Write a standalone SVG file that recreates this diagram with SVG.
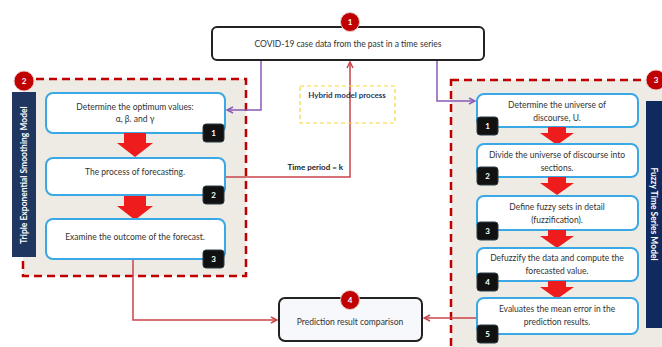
<svg xmlns="http://www.w3.org/2000/svg" xmlns:xlink="http://www.w3.org/1999/xlink" width="662" height="347" viewBox="0 0 662 347">
<style>
text{font-family:Lato,"Liberation Sans",sans-serif;font-size:8.5px;fill:#333;text-anchor:middle}
.step{fill:#fff;stroke:#3aa8e4;stroke-width:2}
.cont{fill:#eeebe4;stroke:#c00000;stroke-width:2.5;stroke-dasharray:8 5}
.badge{fill:#111;stroke:#2b3d44;stroke-width:1}
.bt{fill:#fff;font-weight:bold;font-size:8px}
.circ{fill:#c00000;stroke:#e8c8c8;stroke-width:1}
.ct{fill:#fff;font-weight:bold;font-size:8px}
.band{fill:#1f3660}
.bandt{fill:#fff;font-weight:bold;font-size:8.5px}
.red{fill:none;stroke:#c9444b;stroke-width:1.5}
.pur{fill:none;stroke:#8a5ab8;stroke-width:1.5}
.darr{fill:#ee1c1c}
</style>
<defs>
<marker id="mr" markerWidth="8" markerHeight="8" refX="7" refY="4" orient="auto" markerUnits="userSpaceOnUse"><path d="M1,1 L7,4 L1,7" fill="none" stroke="#c9444b" stroke-width="1.5"/></marker>
<marker id="mp" markerWidth="8" markerHeight="8" refX="7" refY="4" orient="auto" markerUnits="userSpaceOnUse"><path d="M1,1 L7,4 L1,7" fill="none" stroke="#8a5ab8" stroke-width="1.5"/></marker>
<path id="bigL" d="M-11,0 H11 V10 H18 L0,24 L-18,10 H-11 Z"/>
<path id="bigR" d="M-9,0 H9 V6 H17 L0,18 L-17,6 H-9 Z"/>
</defs>
<rect width="662" height="347" fill="#fff"/>

<g id="containers">
<rect class="cont" x="23" y="79" width="223" height="197"/>
<rect class="cont" x="451" y="80" width="220" height="290"/>
</g>

<g id="connectors">
<path class="pur" d="M261,60 V110 H227" marker-end="url(#mp)"/>
<path class="pur" d="M437,60 V101 H475" marker-end="url(#mp)"/>
<path class="red" d="M225,177 H350 V62" marker-end="url(#mr)"/>
<path class="red" d="M133,259 V320 H277" marker-end="url(#mr)"/>
<path class="red" d="M477,318 H424" marker-end="url(#mr)"/>
<text x="343" y="170" style="text-anchor:end;font-weight:bold;fill:#222;font-size:8px">Time period = k</text>
</g>

<g id="hybrid">
<rect x="300" y="86" width="95" height="37" fill="none" stroke="#f5d63a" stroke-width="1.2" stroke-dasharray="4 3"/>
<text x="347" y="98" style="font-weight:bold;fill:#1f3660;font-size:8px">Hybrid model process</text>
</g>

<g id="node1">
<rect x="212" y="27" width="272" height="33" rx="5" fill="#fff" stroke="#222" stroke-width="2"/>
<text x="348" y="47">COVID-19 case data from the past in a time series</text>
<circle class="circ" cx="350" cy="22" r="9.5"/><text class="ct" x="350" y="25">1</text>
</g>

<g id="tes">
<rect class="band" x="12" y="92" width="24" height="165"/>
<text class="bandt" transform="translate(27,175) rotate(-90)">Triple Exponential Smoothing Model</text>
<circle class="circ" cx="24" cy="81" r="10"/><text class="ct" x="24" y="84">2</text>
</g>

<g id="l1">
<rect class="step" x="46" y="93" width="179" height="40" rx="7"/>
<text x="135" y="110">Determine the optimum values:</text>
<text x="135" y="122">α, β. and γ</text>
<rect class="badge" x="203" y="124" width="21" height="18" rx="3"/><text class="bt" x="213.5" y="136">1</text>
</g>
<use xlink:href="#bigL" class="darr" x="135" y="133"/>
<g id="l2">
<rect class="step" x="46" y="158" width="179" height="37" rx="7"/>
<text x="135" y="175">The process of forecasting.</text>
<rect class="badge" x="203" y="186" width="21" height="18" rx="3"/><text class="bt" x="213.5" y="198">2</text>
</g>
<use xlink:href="#bigL" class="darr" x="135" y="196"/>
<g id="l3">
<rect class="step" x="46" y="219" width="179" height="40" rx="7"/>
<text x="135" y="240">Examine the outcome of the forecast.</text>
<rect class="badge" x="203" y="250" width="21" height="18" rx="3"/><text class="bt" x="213.5" y="262">3</text>
</g>

<g id="fts">
<rect class="band" x="646" y="101" width="20" height="227" style="fill:#0e2a5e"/>
<text class="bandt" transform="translate(651,214) rotate(90)">Fuzzy Time Series Model</text>
<circle class="circ" cx="656" cy="80" r="10"/><text class="ct" x="656" y="83">3</text>
</g>

<g id="r1">
<rect class="step" x="477" y="94" width="161" height="33" rx="7"/>
<text x="557" y="108">Determine the universe of</text>
<text x="557" y="121">discourse, U.</text>
<rect class="badge" x="477" y="117" width="21" height="18" rx="3"/><text class="bt" x="487.5" y="129">1</text>
</g>
<use xlink:href="#bigR" class="darr" x="557" y="127"/>
<g id="r2">
<rect class="step" x="477" y="144" width="161" height="33" rx="7"/>
<text x="557" y="158">Divide the universe of discourse into</text>
<text x="557" y="171">sections.</text>
<rect class="badge" x="477" y="167" width="21" height="18" rx="3"/><text class="bt" x="487.5" y="179">2</text>
</g>
<use xlink:href="#bigR" class="darr" x="557" y="177"/>
<g id="r3">
<rect class="step" x="477" y="196" width="161" height="34" rx="7"/>
<text x="557" y="210">Define fuzzy sets in detail</text>
<text x="557" y="223">(fuzzification).</text>
<rect class="badge" x="477" y="222" width="21" height="18" rx="3"/><text class="bt" x="487.5" y="234">3</text>
</g>
<use xlink:href="#bigR" class="darr" x="557" y="230"/>
<g id="r4">
<rect class="step" x="477" y="248" width="161" height="33" rx="7"/>
<text x="557" y="261">Defuzzify the data and compute the</text>
<text x="557" y="274">forecasted value.</text>
<rect class="badge" x="477" y="273" width="21" height="18" rx="3"/><text class="bt" x="487.5" y="285">4</text>
</g>
<use xlink:href="#bigR" class="darr" x="557" y="281"/>
<g id="r5">
<rect class="step" x="477" y="298" width="161" height="36" rx="7"/>
<text x="557" y="312">Evaluates the mean error in the</text>
<text x="557" y="325">prediction results.</text>
<rect class="badge" x="477" y="325" width="21" height="18" rx="3"/><text class="bt" x="487.5" y="337">5</text>
</g>

<g id="node4">
<rect x="279" y="298" width="143" height="43" rx="6" fill="#f6f8fb" stroke="#222" stroke-width="2"/>
<text x="350" y="325">Prediction result comparison</text>
<circle class="circ" cx="350" cy="300" r="9.5"/><text class="ct" x="350" y="303">4</text>
</g>
</svg>
